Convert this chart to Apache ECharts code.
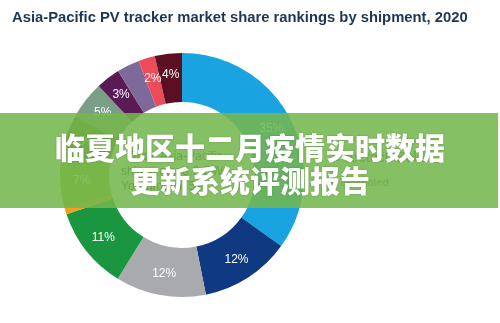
<!DOCTYPE html>
<html><head><meta charset="utf-8">
<script src="https://cdn.jsdelivr.net/npm/echarts@6/dist/echarts.min.js"></script>
<style>html,body{margin:0;padding:0;background:#fff}#c{width:500px;height:323px}</style>
</head><body><div id="c"></div>
<script>
const categories = ['Arctech Solar','B','C','D','E','F','G','H','I','J','K','L'];
const shares = [35, 12, 12, 11, 0.8, 7, 5.5, 5, 3.2, 3, 2.2, 3.6];
const labels = ['35%','12%','12%','11%','','7%','6%','5%','3%','3%','2%','4%'];
const colors = ['#19a3e0','#0f3a82','#a9aaae','#1a9640','#f0a020','#96b324','#66772a','#7a9e86','#5b1a55','#7d6a9a','#ee4b5a','#5a0f22'];
const centerLines = ['Total Asia-Pacific','shipments: 3.6 GW','YoY growth: 5%'];
const bannerLines = ['临夏地区十二月疫情实时数据','更新系统评测报告'];

const chart = echarts.init(document.getElementById('c'));
chart.setOption({
  animation:false,
  title:{text:'Asia-Pacific PV tracker market share rankings by shipment, 2020',left:7,top:5,
    textStyle:{fontFamily:'Liberation Sans, Arial',fontSize:14.8,fontWeight:'bold',color:'#1e3655'}},
  series:[{
    type:'pie', center:[182,175], radius:[73,122], startAngle:90, clockwise:true,
    avoidLabelOverlap:false, silent:true,
    label:{show:true,position:'inside',color:'#fff',fontSize:12,fontFamily:'Liberation Sans, Arial',
      formatter:p=>labels[p.dataIndex]},
    labelLine:{show:false},
    itemStyle:{borderWidth:0},
    data:categories.map((c,i)=>({name:c,value:shares[i],itemStyle:{color:colors[i]}}))
  }],
  graphic:[
    ...centerLines.map((t,i)=>({type:'text',left:i===0?131:121,top:151+i*15,z:5,
      style:{text:t,fontSize:12,fontFamily:'Liberation Sans, Arial',fill:'#333'}})),
    {type:'rect',shape:{x:333,y:155,width:6,height:6},z:5,style:{fill:'#19a3e0'}},
    {type:'text',left:345,top:151,z:5,style:{text:'Arctech Solar',fontSize:14,fontFamily:'Liberation Sans, Arial',fill:'#444'}},
    {type:'text',left:340,top:177,z:5,style:{text:'Estimated',fontSize:11,fontFamily:'Liberation Sans, Arial',fill:'#777'}},
    {type:'rect',shape:{x:0,y:113,width:498,height:95},z:50,style:{fill:'rgba(116,183,77,0.87)'}},
    ...bannerLines.map((t,i)=>({type:'text',x:250,y:148+i*33,z:60,
      style:{text:t,fontSize:30,fontWeight:900,fontFamily:'Noto Sans CJK SC',fill:'#fff',
        align:'center',verticalAlign:'middle',textShadowColor:'rgba(0,0,0,0.25)',textShadowBlur:2}}))
  ]
});
</script></body></html>
